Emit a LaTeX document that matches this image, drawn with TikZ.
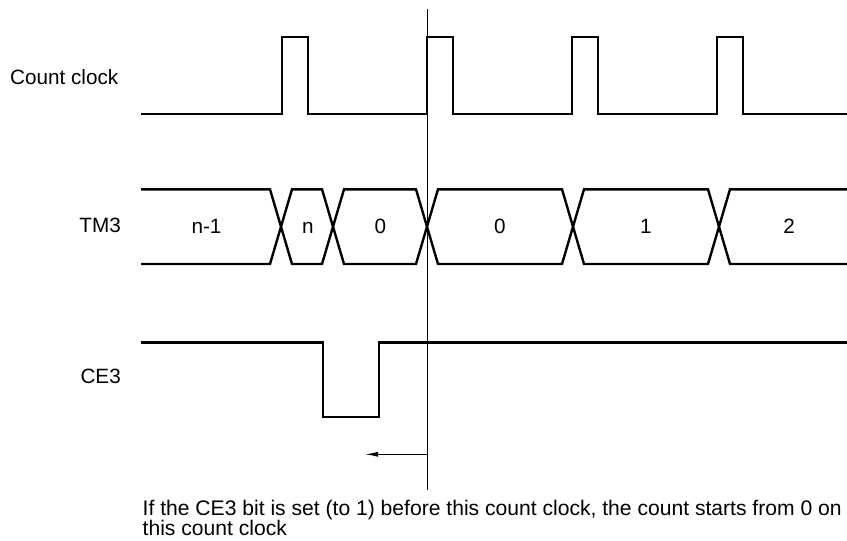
\documentclass[tikz,border=0pt]{standalone}
\usepackage{fontspec}
\setmainfont{Liberation Sans}
\usepackage{tikz}
\usetikzlibrary{arrows.meta}

\begin{document}
\begin{tikzpicture}[x=1pt,y=-1pt,
        every node/.style={font=\fontsize{20.7}{20.4}\selectfont,inner sep=0pt},
        sig/.style={line width=2.4pt,line join=miter}]
        \useasboundingbox (0,0) rectangle (847,541);
        % signal names
        \node[anchor=base east] (clk label) at (118.5,84) {Count clock};
        \node[anchor=base east] (tm label) at (121,232.3) {TM3};
        \node[anchor=base east] (ce label) at (121,383.3) {CE3};
        % count clock
        \draw[sig] (141,114) -- (282,114) -- (282,37) -- (308,37) -- (308,114)
            -- (427,114) -- (427,37) -- (453,37) -- (453,114)
            -- (572,114) -- (572,37) -- (598,37) -- (598,114)
            -- (717,114) -- (717,37) -- (743,37) -- (743,114) -- (847,114);
        % TM3 bus
        \draw[sig] (141,189.3) -- (270,189.3) -- (292,264) -- (322,264) -- (344,189.3)
            -- (416,189.3) -- (438,264) -- (562,264) -- (584,189.3)
            -- (708,189.3) -- (730,264) -- (847,264);
        \draw[sig] (141,264) -- (270,264) -- (292,189.3) -- (322,189.3) -- (344,264)
            -- (416,264) -- (438,189.3) -- (562,189.3) -- (584,264)
            -- (708,264) -- (730,189.3) -- (847,189.3);
        \node[anchor=base] (v n-1) at (206.5,233.3) {n-1};
        \node[anchor=base] (v n) at (308,233.3) {n};
        \node[anchor=base] (v 0a) at (380.5,233.3) {0};
        \node[anchor=base] (v 0b) at (500,233.3) {0};
        \node[anchor=base] (v 1) at (646,233.3) {1};
        \node[anchor=base] (v 2) at (789,233.3) {2};
        % CE3
        \draw[sig] (141,342.3) -- (323,342.3) -- (323,416.7) -- (379,416.7)
            -- (379,342.3) -- (847,342.3);
        % marker line and arrow
        \coordinate (mark top) at (427,9);
        \coordinate (mark bot) at (427,490);
        \coordinate (mark arrow) at (427,454.3);
        \coordinate (arrow end) at (365,454.3);
        \draw[line width=1pt] (mark top) -- (mark bot);
        \draw[line width=1.2pt,-{Latex[length=13pt,width=5pt]}] (mark arrow) -- (arrow end);
        \node[anchor=north west,align=left,font=\fontsize{21.1}{20.4}\selectfont] (note) at (142.5,500)
            {If the CE3 bit is set (to 1) before this count clock, the count starts from 0 on\\this count clock};
    \end{tikzpicture}
\end{document}
